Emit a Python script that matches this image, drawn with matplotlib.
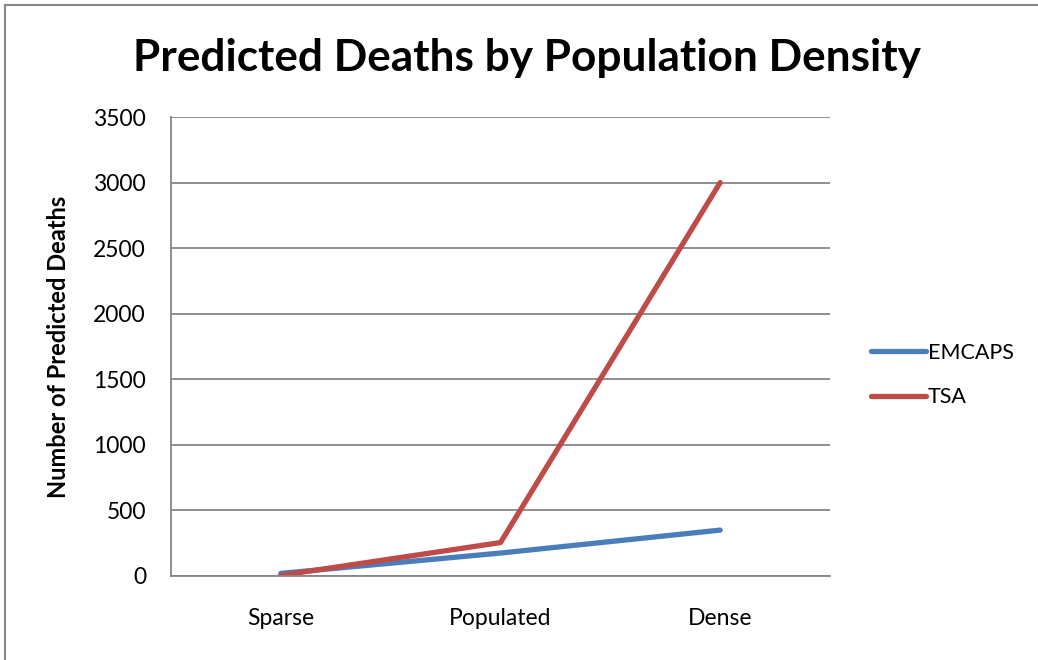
import matplotlib.pyplot as plt
from matplotlib.lines import Line2D

categories = ['Sparse', 'Populated', 'Dense']
emcaps = [20, 175, 350]
tsa = [5, 255, 3000]
yticks = [0, 500, 1000, 1500, 2000, 2500, 3000, 3500]

plt.rcParams['font.family'] = ['Lato', 'DejaVu Sans']

fig = plt.figure(figsize=(10.38, 6.6), dpi=100)
ax = fig.add_axes([171 / 1038, 1 - 576 / 660, 659 / 1038, 459 / 660])

x = range(len(categories))
ax.plot(x, emcaps, color='#4A7EBB', lw=3.8, solid_capstyle='round', label='EMCAPS')
ax.plot(x, tsa, color='#BE4B48', lw=3.8, solid_capstyle='round', label='TSA')

ax.set_xlim(-0.5, 2.5)
ax.set_ylim(0, 3500)
ax.set_yticks(yticks)
ax.set_xticks(list(x))
ax.set_xticklabels(categories)
ax.tick_params(axis='both', length=0, labelsize=16.5, colors='black')
ax.tick_params(axis='x', pad=23)
ax.tick_params(axis='y', pad=18)
ax.grid(axis='y', color='#868686', lw=1.3)
ax.set_axisbelow(True)
for s in ['top', 'right']:
    ax.spines[s].set_visible(False)
for s in ['left', 'bottom']:
    ax.spines[s].set_color('#868686')
    ax.spines[s].set_linewidth(1.3)

ax.set_ylabel('Number of Predicted Deaths', fontsize=17, fontweight='bold', labelpad=17)
fig.text(527 / 1038, 1 - 58 / 660, 'Predicted Deaths by Population Density',
         ha='center', va='center', fontsize=31.8, fontweight='bold')

handles = [Line2D([], [], color='#4A7EBB', lw=3.8, solid_capstyle='round'),
           Line2D([], [], color='#BE4B48', lw=3.8, solid_capstyle='round')]
fig.legend(handles, ['EMCAPS', 'TSA'], loc='center left',
           bbox_to_anchor=(856 / 1038, 1 - 375 / 660), frameon=False,
           fontsize=15.5, handlelength=2.55, handletextpad=0.1, labelspacing=1.15,
           borderpad=0.2)

# outer frame (chart area border, cropped on right and bottom)
fig.add_artist(Line2D([5 / 1038, 5 / 1038], [0, 1 - 5 / 660], transform=fig.transFigure, color='#868686', lw=1.5))
fig.add_artist(Line2D([5 / 1038, 1], [1 - 5 / 660, 1 - 5 / 660], transform=fig.transFigure, color='#868686', lw=1.5))

fig.savefig('out.png', dpi=100)
